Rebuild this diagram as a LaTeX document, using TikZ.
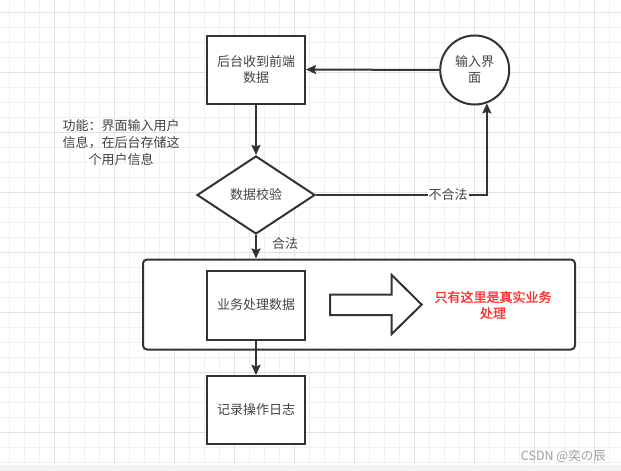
\documentclass[tikz,border=0pt]{standalone}
\usepackage{fontspec}
\setmainfont{Noto Sans CJK SC}
\newfontfamily\cjkbold[FakeBold=1.5]{Noto Sans CJK SC}
\usetikzlibrary{shapes.geometric,arrows.meta}
\definecolor{inkline}{HTML}{333333}
\definecolor{inktext}{HTML}{444444}
\definecolor{gridminor}{HTML}{F0F0F0}
\definecolor{gridmajor}{HTML}{E2E2E2}
\definecolor{hotred}{HTML}{FF3333}
\definecolor{footband}{HTML}{F2F2F2}
\tikzset{
  flowbox/.style={draw=inkline, line width=2pt, fill=white, minimum width=98pt,
    align=center, text=inktext, font=\fontsize{13}{16}\selectfont, inner sep=2pt},
  flowcircle/.style={draw=inkline, line width=2pt, fill=white, circle, minimum size=69pt,
    align=center, text=inktext, font=\fontsize{13}{16}\selectfont, inner sep=0pt},
  flowdiamond/.style={draw=inkline, line width=2pt, fill=white, diamond, aspect=1.5,
    minimum width=118pt, minimum height=78pt, text=inktext,
    font=\fontsize{13}{16}\selectfont, inner sep=0pt},
  flowarrow/.style={draw=inkline, line width=2pt, -{Stealth[length=10pt,width=9pt,inset=1.5pt]}},
  plaintext/.style={text=inktext, font=\fontsize{13}{16}\selectfont, align=center, inner sep=1pt},
}
\begin{document}
\begin{tikzpicture}[x=1pt,y=-1pt]
\useasboundingbox (0,0) rectangle (621,471);
% paper grid
\fill[white] (0,0) rectangle (621,471);
\foreach \gx in {9.5,24.5,...,620} \draw[gridminor, line width=1pt] (\gx,0) -- (\gx,465);
\foreach \gy in {12,27,...,465} \draw[gridminor, line width=1pt] (0,\gy) -- (621,\gy);
\foreach \gx in {54.5,114.5,...,620} \draw[gridmajor, line width=1pt] (\gx,0) -- (\gx,465);
\foreach \gy in {12,72,...,465} \draw[gridmajor, line width=1pt] (0,\gy) -- (621,\gy);
\fill[footband] (0,465) rectangle (621,471);

% container around the real business step
\node[draw=inkline, line width=2pt, fill=white, rounded corners=4pt,
  minimum width=432pt, minimum height=90pt, inner sep=0pt] (zone) at (359,304.5) {};

% flow nodes
\node[flowbox, minimum height=68pt] (recv) at (256,69.5) {后台收到前端\\数据};
\node[flowcircle] (input) at (474.7,70) {输入界\\面};
\node[flowdiamond] (check) at (256,195) {数据校验};
\node[flowbox, minimum height=69pt] (work) at (256,305) {业务处理数据};
\node[flowbox, minimum height=68pt] (log) at (256,410) {记录操作日志};

% block arrow pointing at the note
\draw[inkline, line width=2pt, fill=white, line join=miter]
  (330,294.5) -- (391.7,294.5) -- (391.7,275) -- (421.7,304.6) -- (391.7,334)
  -- (391.7,315) -- (330,315) -- cycle;
\node[font=\cjkbold\fontsize{13}{16}\selectfont, text=hotred, align=center] (note) at (493,305)
  {只有这里是真实业务\\处理};

% side annotation
\node[plaintext, font=\fontsize{13}{17}\selectfont] (remark) at (121,143)
  {功能：界面输入用户\\信息，在后台存储这\\个用户信息};

% connectors
\draw[flowarrow] (input.west) -- (recv.east);
\draw[flowarrow] (recv.south) -- (check.north);
\coordinate (turn) at (input.-70 |- check.east);
\draw[flowarrow] (check.east) -- (turn) -- (input.-70);
\node[plaintext, fill=white] (bad) at (448,195) {不合法};
\draw[flowarrow] (check.south) -- (zone.north -| check.south);
\node[plaintext] (good) at (285,244) {合法};
\draw[flowarrow] (work.south) -- (log.north);

% watermark
\node[text=gray!75, font=\fontsize{12.5}{14}\selectfont, anchor=east, inner sep=0pt] (mark) at (606,456.5)
  {CSDN @奕の辰};
\end{tikzpicture}
\end{document}
